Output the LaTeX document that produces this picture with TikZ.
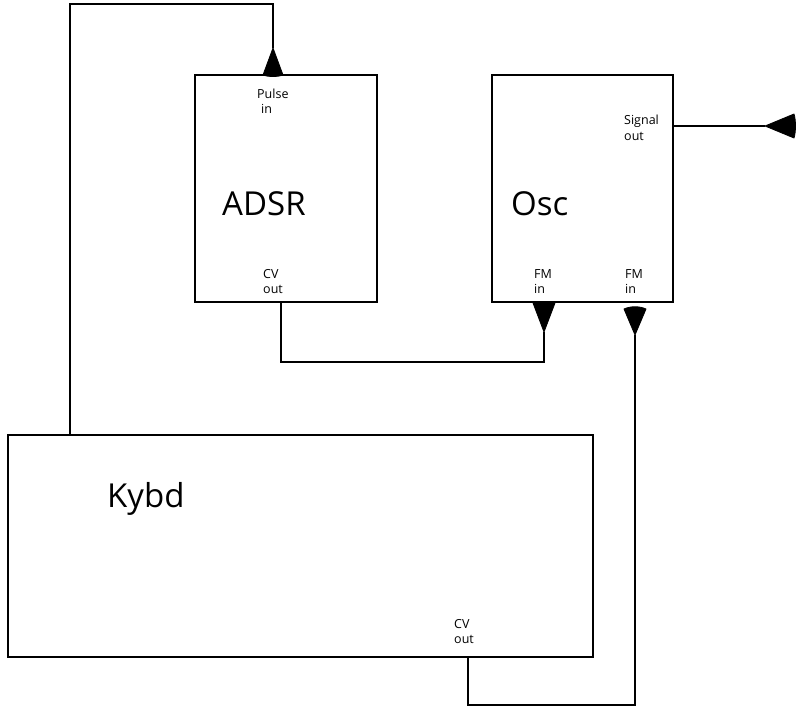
\documentclass[tikz,border=0pt]{standalone}
\usepackage{fontspec}
\setmainfont{Open Sans}
\begin{document}
\begin{tikzpicture}[x=1pt,y=-1pt,
  box/.style={draw,line width=2.4pt,inner sep=0pt},
  wire/.style={line width=2.4pt},
  tip/.style={fill=black,draw=black,line width=0.8pt,line join=round},
  big/.style={anchor=base west,inner sep=0pt,font=\fontsize{33}{33}\selectfont},
  small/.style={anchor=base west,inner sep=0pt,font=\fontsize{12.5}{12.5}\selectfont}]
\useasboundingbox (0,0) rectangle (797,709);
% boxes
\node[box,minimum width=182pt,minimum height=227pt] (adsr) at (286,188.5) {};
\node[box,minimum width=181pt,minimum height=227pt] (osc) at (582.5,188.5) {};
\node[box,minimum width=585pt,minimum height=222pt] (kybd) at (300.5,546) {};
% big labels
\node[big] (adsrl) at (222,215) {ADSR};
\node[big] (oscl) at (511,215) {Osc};
\node[big] (kybdl) at (107,507) {Kybd};
% small labels
\node[small] (pulse1) at (257,98) {Pulse};
\node[small] (pulse2) at (261,113) {in};
\node[small] (cv1a) at (263,278) {CV};
\node[small] (cv1b) at (263,293) {out};
\node[small] (fm1a) at (534,278) {FM};
\node[small] (fm1b) at (534,293) {in};
\node[small] (fm2a) at (625,278) {FM};
\node[small] (fm2b) at (625,293) {in};
\node[small] (sig1) at (624,124) {Signal};
\node[small] (sig2) at (624,140) {out};
\node[small] (cv2a) at (454,628) {CV};
\node[small] (cv2b) at (454,643) {out};
% port coordinates
\coordinate (pulsein) at (273,75);
\coordinate (pulsetip) at (273,48);
\coordinate (kybdtop) at (70,435);
\coordinate (cvout) at (281,302);
\coordinate (fm1) at (544,302);
\coordinate (fm1tip) at (544,332);
\coordinate (fm2) at (635,307);
\coordinate (fm2tip) at (635,335);
\coordinate (kcv) at (468,657);
\coordinate (sigout) at (673,126);
\coordinate (sigtip) at (765,126);
% wires
\draw[wire] (kybdtop) -- (70,4) -| (pulsetip);
\draw[wire] (cvout) |- (544,362) -- (fm1tip);
\draw[wire] (kcv) |- (635,705) -- (fm2tip);
\draw[wire] (sigout) -- (sigtip);
% arrowheads
\draw[tip] (263,75) -- (pulsetip) -- (283,75) .. controls (278,77) and (268,77) .. cycle;
\draw[tip] (533,303) -- (fm1tip) -- (555,303) -- cycle;
\draw[tip] (624,309) .. controls (630,306) and (640,306) .. (646,309) -- (fm2tip) -- cycle;
\draw[tip] (sigtip) -- (794,114) .. controls (796,120) and (796,132) .. (794,138) -- cycle;
\end{tikzpicture}
\end{document}
